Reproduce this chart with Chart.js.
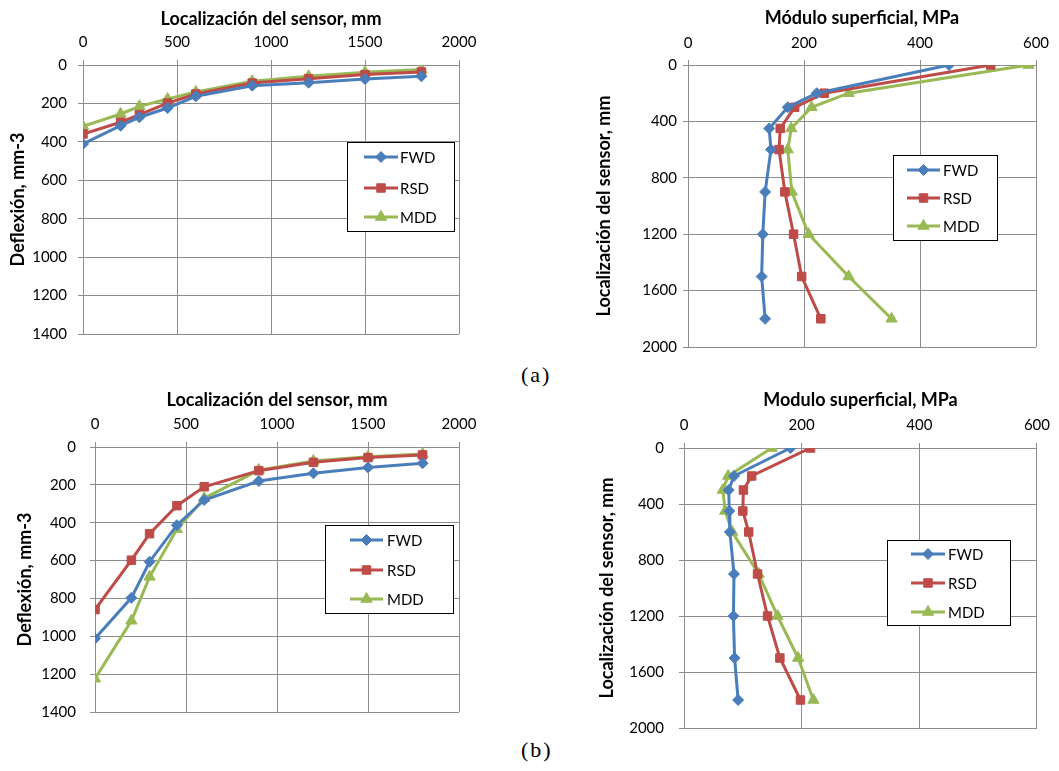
<!DOCTYPE html>
<html>
<head>
<meta charset="utf-8">
<script src="https://cdn.jsdelivr.net/npm/chart.js@4/dist/chart.umd.min.js"></script>
<style>
  body { margin: 0; background: #fff; width: 1059px; height: 771px; position: relative; overflow: hidden; }
  .box { position: absolute; }
  .tag { position: absolute; font-family: "Liberation Serif", "DejaVu Serif", serif; font-size: 22px; letter-spacing: 2px; color: #000; }
</style>
</head>
<body>
<div class="box" style="left:0px;top:0px;width:490px;height:364px"><canvas id="cA1" width="490" height="364"></canvas></div>
<div class="box" style="left:590px;top:0px;width:469px;height:377px"><canvas id="cA2" width="469" height="377"></canvas></div>
<div class="box" style="left:0px;top:380px;width:490px;height:362px"><canvas id="cB1" width="490" height="362"></canvas></div>
<div class="box" style="left:590px;top:380px;width:469px;height:378px"><canvas id="cB2" width="469" height="378"></canvas></div>
<div class="tag" style="left:521px;top:362px">(a)</div>
<div class="tag" style="left:521px;top:737px">(b)</div>
<script>
// sensor locations, mm
var sensorPos = [0, 200, 300, 450, 600, 900, 1200, 1500, 1800];
var seriesNames = ['FWD', 'RSD', 'MDD'];

// (a) deflection, mm-3
var defA_FWD = [411, 316, 272, 224, 163, 108, 92, 73, 59];
var defA_RSD = [359, 298, 258, 198, 151, 94, 71, 50, 36];
var defA_MDD = [319, 255, 215, 177, 140, 85, 59, 38, 24];
// (a) surface modulus, MPa
var modA_FWD = [450, 222, 172, 140, 143, 133, 129, 127, 133];
var modA_RSD = [522, 235, 184, 159, 157, 167, 182, 196, 229];
var modA_MDD = [587, 277, 213, 178, 172, 179, 208, 277, 351];

// (b) deflection, mm-3
var defB_FWD = [1012, 797, 606, 413, 280, 180, 139, 108, 86];
var defB_RSD = [859, 598, 458, 310, 210, 125, 81, 56, 42];
var defB_MDD = [1224, 918, 686, 435, 271, 122, 74, 51, 37];
// (b) surface modulus, MPa
var modB_FWD = [181, 85, 76, 77, 78, 85, 84, 86, 92];
var modB_RSD = [215, 115, 101, 100, 110, 125, 142, 163, 198];
var modB_MDD = [149, 75, 66, 70, 82, 127, 159, 194, 220];

var colors = ['#4A7EBB', '#BE4B48', '#98B954'];
var markers = ['rectRot', 'rect', 'triangle'];
var markerSize = [5.5, 6, 6.5];

Chart.defaults.font.family = 'Lato, "Open Sans", sans-serif';
Chart.defaults.color = '#000';

function pairs(xs, ys) {
    return xs.map(function (x, i) { return { x: x, y: ys[i] }; });
}

function makeSets(xLists, yLists) {
    return seriesNames.map(function (name, i) {
        return {
            label: name,
            data: pairs(xLists[i], yLists[i]),
            showLine: true,
            borderColor: colors[i],
            backgroundColor: colors[i],
            borderWidth: 3,
            pointStyle: markers[i],
            pointRadius: markerSize[i],
            pointBorderWidth: 1,
            pointBorderColor: colors[i],
            tension: 0
        };
    });
}

// legend drawn inside the plot, framed like the office chart
var boxLegend = {
    id: 'boxLegend',
    afterDraw: function (chart, args, opts) {
        var ctx = chart.ctx;
        ctx.save();
        ctx.fillStyle = '#fff';
        ctx.fillRect(opts.x, opts.y, opts.w, opts.h);
        ctx.strokeStyle = '#000';
        ctx.lineWidth = 1;
        ctx.strokeRect(opts.x + 0.5, opts.y + 0.5, opts.w, opts.h);
        chart.data.datasets.forEach(function (ds, i) {
            var y = opts.y + opts.rows[i];
            ctx.strokeStyle = ds.borderColor;
            ctx.lineWidth = 3;
            ctx.beginPath();
            ctx.moveTo(opts.x + opts.lineX, y);
            ctx.lineTo(opts.x + opts.lineX + opts.lineW, y);
            ctx.stroke();
            ctx.fillStyle = ds.backgroundColor;
            ctx.strokeStyle = ds.borderColor;
            ctx.lineWidth = 1;
            Chart.helpers.drawPoint(ctx, { pointStyle: ds.pointStyle, radius: ds.pointRadius, rotation: 0, borderWidth: 1 },
                opts.x + opts.lineX + opts.lineW / 2, y);
            ctx.fillStyle = '#000';
            ctx.font = '15px Lato, "Open Sans", sans-serif';
            ctx.textBaseline = 'middle';
            ctx.textAlign = 'left';
            ctx.fillText(ds.label, opts.x + opts.textX, y + 1);
        });
        ctx.restore();
    }
};

function plain(v) { return String(v); }

function build(id, sets, xTitle, yTitle, xMax, xStep, yMax, yStep, lay, leg) {
    var grid = { color: '#8C8C8C', lineWidth: 1, tickLength: 5, drawTicks: true };
    new Chart(document.getElementById(id), {
        type: 'scatter',
        data: { datasets: sets },
        plugins: [boxLegend],
        options: {
            responsive: false,
            animation: false,
            layout: { padding: { left: 0, top: 0, right: lay.right, bottom: 30 } },
            plugins: {
                legend: { display: false },
                tooltip: { enabled: false },
                boxLegend: leg
            },
            scales: {
                x: {
                    type: 'linear',
                    position: 'top',
                    min: 0, max: xMax,
                    grid: grid,
                    border: { color: '#8C8C8C' },
                    ticks: { stepSize: xStep, padding: lay.xtick, font: { size: 15 }, callback: plain },
                    title: { display: true, text: xTitle, font: { size: 18, weight: 'bold' }, padding: { top: lay.xtPad, bottom: 0 } },
                    afterFit: function (s) { s.height = lay.top; }
                },
                y: {
                    type: 'linear',
                    reverse: true,
                    min: 0, max: yMax,
                    grid: grid,
                    border: { color: '#8C8C8C' },
                    ticks: { stepSize: yStep, padding: lay.ytick, font: { size: 15 }, callback: plain },
                    title: { display: true, text: yTitle, font: { size: 18, weight: 'bold' }, padding: { top: lay.ytPad, bottom: 0 } },
                    afterFit: function (s) { s.width = lay.left; }
                }
            }
        }
    });
}

build('cA1', makeSets([sensorPos, sensorPos, sensorPos], [defA_FWD, defA_RSD, defA_MDD]),
    'Localización del sensor, mm', 'Deflexión, mm-3', 2000, 500, 1400, 200,
    { left: 83, top: 65, right: 31, xtPad: 8, ytPad: 7, xtick: 9, ytick: 11 },
    { x: 347, y: 142, w: 107, h: 89, lineX: 17, lineW: 34, textX: 53, rows: [15, 46, 75] });

build('cA2', makeSets([modA_FWD, modA_RSD, modA_MDD], [sensorPos, sensorPos, sensorPos]),
    'Módulo superficial, MPa', 'Localización del sensor, mm', 600, 200, 2000, 400,
    { left: 98, top: 65, right: 23, xtPad: 7, ytPad: 3, xtick: 8, ytick: 6 },
    { x: 303, y: 155, w: 104, h: 85, lineX: 14, lineW: 33, textX: 50, rows: [15, 43, 71] });

build('cB1', makeSets([sensorPos, sensorPos, sensorPos], [defB_FWD, defB_RSD, defB_MDD]),
    'Localización del sensor, mm', 'Deflexión, mm-3', 2000, 500, 1400, 200,
    { left: 95, top: 67, right: 31, xtPad: 9, ytPad: 14, xtick: 9, ytick: 14 },
    { x: 325, y: 145, w: 128, h: 88, lineX: 25, lineW: 33, textX: 62, rows: [15, 45, 74] });

build('cB2', makeSets([modB_FWD, modB_RSD, modB_MDD], [sensorPos, sensorPos, sensorPos]),
    'Modulo superficial, MPa', 'Localización del sensor, mm', 600, 200, 2000, 400,
    { left: 94, top: 68, right: 22, xtPad: 9, ytPad: 6, xtick: 9, ytick: 15 },
    { x: 297, y: 160, w: 123, h: 85, lineX: 24, lineW: 34, textX: 61, rows: [14, 43, 72] });
</script>
</body>
</html>
